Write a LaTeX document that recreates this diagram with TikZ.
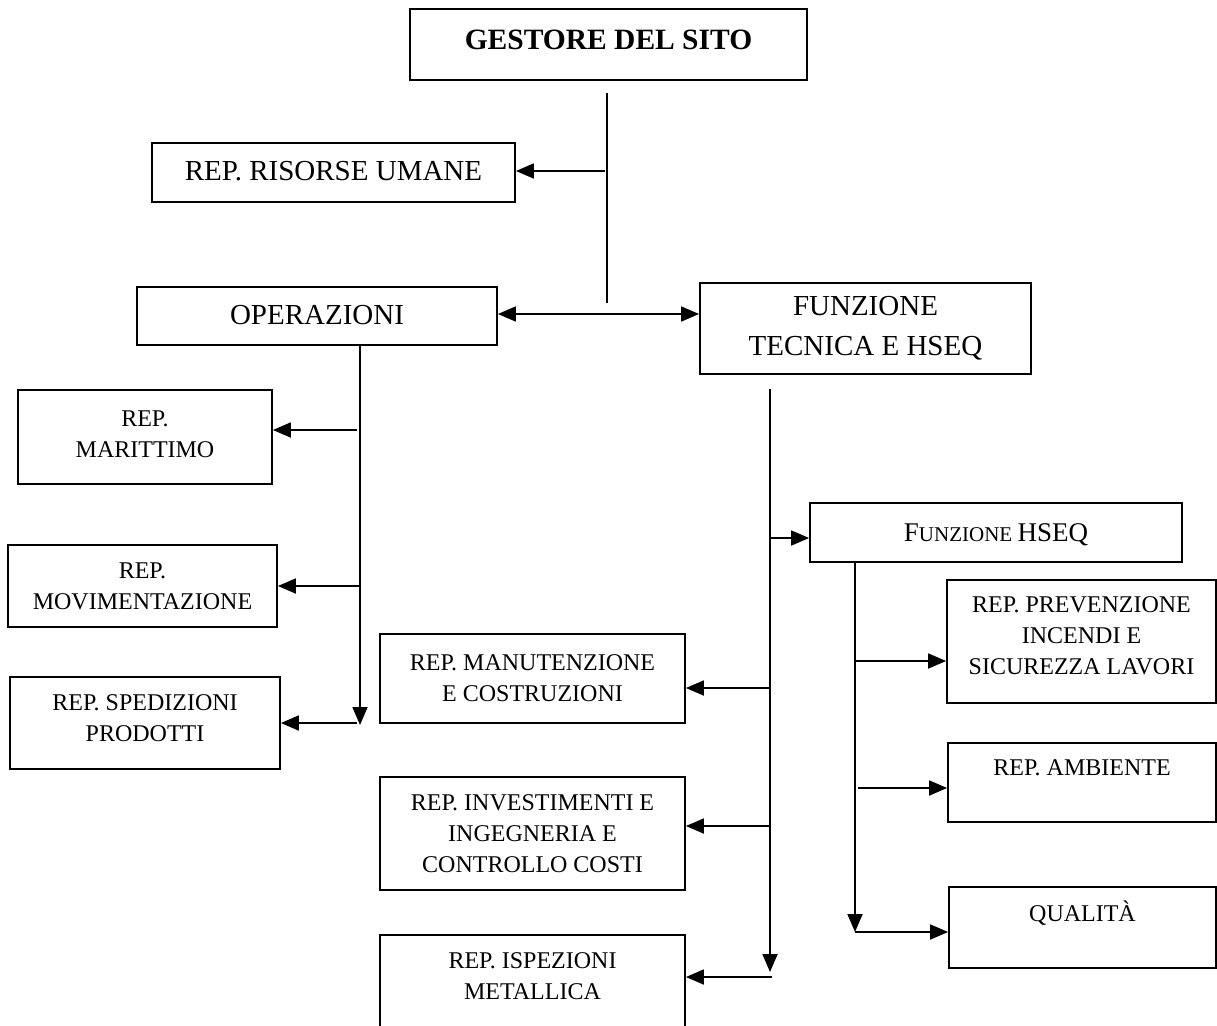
\documentclass[tikz,border=0pt]{standalone}
\usepackage{fontspec}
\setmainfont{Liberation Serif}
\usetikzlibrary{arrows.meta, positioning, calc}
\newcommand{\repfont}{\fontsize{24}{31}\selectfont}
\newcommand{\midfont}{\fontsize{29}{40}\selectfont}
\newcommand{\topfont}{\fontsize{29.5}{36}\selectfont\bfseries}
\newcommand{\bigF}{\fontsize{27}{32}\selectfont}
\newcommand{\smallF}{\fontsize{21}{32}\selectfont}
\tikzset{box/.style={draw, rectangle, align=center, inner sep=0pt, font=\repfont}}
\tikzset{link/.style={->}}

\begin{document}
\begin{tikzpicture}[x=1pt, y=-1pt, line width=1.8pt, >={Triangle[length=18pt,width=15pt]}]
    \useasboundingbox (0,0) rectangle (1217,1025);

    \node[box, font=\topfont, minimum width=397pt, minimum height=71pt, text height=20pt, text depth=11pt] (gestore) at (608.5,44.5) {GESTORE DEL SITO};
    \node[box, font=\midfont, minimum width=363pt, minimum height=59pt, text height=19pt, text depth=3pt] (risorse) at (333.5,172.5) {REP. RISORSE UMANE};

    \node[box, font=\midfont, minimum width=360pt, minimum height=58pt, text height=19pt, text depth=2pt] (operazioni) at (317,316) {OPERAZIONI};
    \node[box, font=\midfont, minimum width=331pt, minimum height=91pt] (tecnica) at (865.5,328.5) {FUNZIONE\\TECNICA E HSEQ};

    \node[box, minimum width=254pt, minimum height=94pt, text depth=6pt] (marittimo) at (145,437) {REP.\\MARITTIMO};
    \node[box, minimum width=269pt, minimum height=82pt] (movimentazione) at (142.5,586) {REP.\\MOVIMENTAZIONE};
    \node[box, minimum width=270pt, minimum height=92pt, text depth=10pt] (spedizioni) at (145,723) {REP. SPEDIZIONI\\PRODOTTI};

    \node[box, minimum width=372pt, minimum height=59pt, text height=18pt, text depth=0pt] (hseq) at (996,532.5) {\bigF F\smallF UNZIONE \bigF HSEQ};
    \node[box, minimum width=269pt, minimum height=123pt, text depth=12pt] (prevenzione) at (1081.5,641.5) {REP. PREVENZIONE\\INCENDI E\\SICUREZZA LAVORI};
    \node[box, minimum width=268pt, minimum height=79pt, text height=16pt, text depth=31pt] (ambiente) at (1082,782.5) {REP. AMBIENTE};
    \node[box, minimum width=267pt, minimum height=81pt, text height=16pt, text depth=29pt] (qualita) at (1082.5,927.5) {QUALITÀ};

    \node[box, minimum width=305pt, minimum height=89pt] (manutenzione) at (532.5,678.5) {REP. MANUTENZIONE\\E COSTRUZIONI};
    \node[box, minimum width=305pt, minimum height=113pt] (investimenti) at (532.5,833.5) {REP. INVESTIMENTI E\\INGEGNERIA E\\CONTROLLO COSTI};
    \node[box, minimum width=305pt, minimum height=100pt, text depth=18pt] (ispezioni) at (532.5,985) {REP. ISPEZIONI\\METALLICA};

    % gestore
    \coordinate (gtop) at (607,93);
    \coordinate (gbot) at (607,303);
    \draw (gtop) -- (gbot);
    \draw[link] (605,171) coordinate (g1) -- (g1 -| risorse.east);
    \draw[<->] (operazioni.east) ++(0,-2) coordinate (g2) -- (g2 -| tecnica.west);

    % operazioni
    \coordinate (otop) at (360,345);
    \coordinate (obot) at (360,725);
    \coordinate (o1) at (357,430);
    \coordinate (o2) at (360,586);
    \coordinate (o3) at (357,723);
    \draw[link] (otop) -- (obot);
    \draw[link] (o1) -- (o1 -| marittimo.east);
    \draw[link] (o2) -- (o2 -| movimentazione.east);
    \draw[link] (o3) -- (o3 -| spedizioni.east);

    % funzione tecnica
    \coordinate (ttop) at (770,389);
    \coordinate (tbot) at (770,972);
    \coordinate (t1) at (770,538);
    \coordinate (t2) at (770,688);
    \coordinate (t3) at (770,826);
    \coordinate (t4) at (772,977);
    \draw[link] (ttop) -- (tbot);
    \draw[link] (t1) -- (t1 -| hseq.west);
    \draw[link] (t2) -- (t2 -| manutenzione.east);
    \draw[link] (t3) -- (t3 -| investimenti.east);
    \draw[link] (t4) -- (t4 -| ispezioni.east);

    % funzione hseq
    \coordinate (htop) at (855,562);
    \coordinate (hbot) at (855,932);
    \coordinate (h1) at (855,661);
    \coordinate (h2) at (858,788);
    \coordinate (h3) at (855,932);
    \draw[link] (htop) -- (hbot);
    \draw[link] (h1) -- (h1 -| prevenzione.west);
    \draw[link] (h2) -- (h2 -| ambiente.west);
    \draw[link] (h3) -- (h3 -| qualita.west);
\end{tikzpicture}
\end{document}
